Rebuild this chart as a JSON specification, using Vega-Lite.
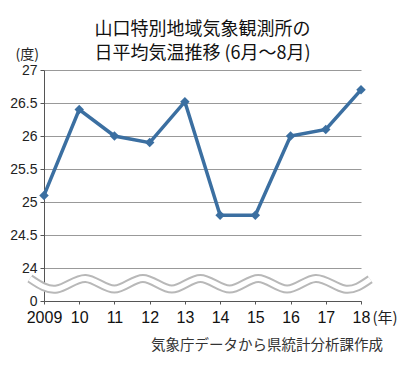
{
  "$schema": "https://vega.github.io/schema/vega-lite/v6.json",
  "autosize": "none",
  "width": 317,
  "height": 231,
  "padding": {"left": 44, "top": 70, "right": 48, "bottom": 67},
  "background": "white",
  "config": {"view": {"stroke": null}},
  "title": {
    "text": ["山口特別地域気象観測所の", "日平均気温推移 (6月～8月)"],
    "font": "Noto Sans CJK JP",
    "fontSize": 18,
    "fontWeight": "normal",
    "color": "#111",
    "lineHeight": 24,
    "anchor": "middle",
    "offset": -16
  },
  "datasets": {
    "temps": [
      {"year": 2009, "temp": 25.1},
      {"year": 2010, "temp": 26.4},
      {"year": 2011, "temp": 26.0},
      {"year": 2012, "temp": 25.9},
      {"year": 2013, "temp": 26.52},
      {"year": 2014, "temp": 24.8},
      {"year": 2015, "temp": 24.8},
      {"year": 2016, "temp": 26.0},
      {"year": 2017, "temp": 26.1},
      {"year": 2018, "temp": 26.7}
    ],
    "wave": [
      {"year": 2008.6, "temp": 16.3},
      {"year": 2009.37, "temp": 8.7},
      {"year": 2010.18, "temp": 16.4},
      {"year": 2011.0, "temp": 8.7},
      {"year": 2011.81, "temp": 16.4},
      {"year": 2012.63, "temp": 8.7},
      {"year": 2013.44, "temp": 16.4},
      {"year": 2014.27, "temp": 8.7},
      {"year": 2015.08, "temp": 16.4},
      {"year": 2015.9, "temp": 8.7},
      {"year": 2016.71, "temp": 16.4},
      {"year": 2017.53, "temp": 8.7},
      {"year": 2018.26, "temp": 15.8}
    ],
    "note": [
      {"year": 2018.625, "temp": -35.6, "label": "気象庁データから県統計分析課作成"}
    ]
  },
  "encoding": {
    "x": {
      "field": "year",
      "type": "quantitative",
      "scale": {"domain": [2009, 2018], "nice": false, "zero": false},
      "axis": {
        "values": [2009, 2010, 2011, 2012, 2013, 2014, 2015, 2016, 2017, 2018],
        "labelExpr": "datum.value === 2009 ? '2009' : substring(toString(datum.value), 2)",
        "grid": false,
        "domainColor": "#555",
        "tickColor": "#555",
        "tickSize": 3,
        "labelPadding": 18,
        "labelBaseline": "alphabetic",
        "labelFont": "Liberation Sans",
        "labelFontSize": 16,
        "labelColor": "#111",
        "labelFlush": false,
        "labelOverlap": false,
        "title": "(年)",
        "titleFont": "Noto Sans CJK JP",
        "titleFontSize": 15,
        "titleFontWeight": "normal",
        "titleColor": "#222",
        "titleAlign": "left",
        "titleBaseline": "alphabetic",
        "titleX": 328,
        "titleY": 21
      }
    },
    "y": {
      "field": "temp",
      "type": "quantitative",
      "scale": {"domain": [0, 24, 27], "range": [231, 198, 0], "nice": false, "zero": false},
      "axis": {
        "values": [0, 24, 24.5, 25, 25.5, 26, 26.5, 27],
        "labelExpr": "toString(datum.value)",
        "grid": true,
        "gridColor": "#999",
        "gridWidth": 1,
        "domainColor": "#555",
        "tickColor": "#555",
        "tickSize": 4,
        "labelPadding": 3,
        "labelFont": "Liberation Sans",
        "labelFontSize": 14,
        "labelColor": "#222",
        "labelFlush": false,
        "labelOverlap": false,
        "title": "(度)",
        "titleFont": "Noto Sans CJK JP",
        "titleFontSize": 14,
        "titleFontWeight": "normal",
        "titleColor": "#222",
        "titleAngle": 0,
        "titleAlign": "left",
        "titleBaseline": "alphabetic",
        "titleX": -29,
        "titleY": -12
      }
    }
  },
  "layer": [
    {
      "data": {"name": "wave"},
      "mark": {"type": "line", "interpolate": "natural", "color": "#b8b8b8", "strokeWidth": 9}
    },
    {
      "data": {"name": "wave"},
      "mark": {"type": "line", "interpolate": "natural", "color": "white", "strokeWidth": 5}
    },
    {
      "data": {"name": "temps"},
      "mark": {"type": "line", "color": "#3b6fa1", "strokeWidth": 3.5}
    },
    {
      "data": {"name": "temps"},
      "mark": {"type": "point", "shape": "diamond", "filled": true, "color": "#3b6fa1", "size": 90, "opacity": 1}
    },
    {
      "data": {"name": "note"},
      "mark": {"type": "text", "align": "right", "baseline": "alphabetic", "font": "Noto Sans CJK JP", "fontSize": 14.5, "color": "#333"},
      "encoding": {"text": {"field": "label"}}
    }
  ]
}
